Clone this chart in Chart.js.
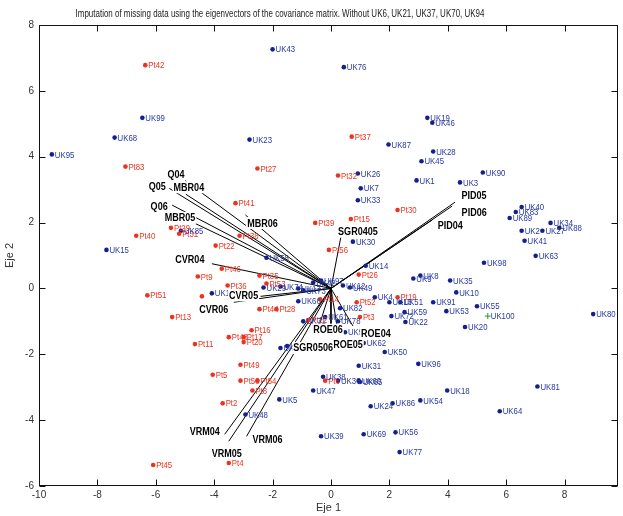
<!DOCTYPE html>
<html>
<head>
<meta charset="utf-8">
<script src="https://cdn.jsdelivr.net/npm/chart.js@4.4.1/dist/chart.umd.min.js"></script>
<style>
  html, body { margin: 0; padding: 0; background: #fff; }
  canvas { display: block; }
</style>
</head>
<body>
<canvas id="biplot" width="623" height="516"></canvas>
<script>
// Biplot — scores (Pt = red, UK = blue) and loading vectors

const chartTitle = 'Imputation of missing data using the eigenvectors of the covariance matrix. Without UK6, UK21, UK37, UK70, UK94';

const ptNames = ['Pt42','Pt83','Pt37','Pt27','Pt32','Pt41','Pt39','Pt15','Pt30','Pt56','Pt26','Pt52','Pt3','Pt19','Pt14',
  'Pt44','Pt28','Pt35','Pt53','Pt36','Pt46','Pt9','Pt22','Pt38','Pt40','Pt29','Pt31','Pt51','Pt13','',
  'Pt11','Pt16','Pt48','Pt17','Pt20','Pt49','Pt5','Pt50','Pt54','Pt8','Pt2','Pt4','Pt45','Pt6','Pt12'];
const ptX = [-6.36,-7.04,0.71,-2.52,0.24,-3.27,-0.54,0.68,2.28,-0.07,0.95,0.88,0.99,2.28,-0.37,
  -2.45,-1.87,-2.45,-2.21,-3.54,-3.74,-4.56,-3.95,-3.13,-6.67,-5.48,-5.20,-6.29,-5.44,-4.42,
  -4.66,-2.72,-3.50,-2.99,-2.99,-3.10,-4.05,-3.10,-2.52,-2.69,-3.71,-3.50,-6.09,-0.20,-0.78];
const ptY = [6.78,3.70,4.61,3.64,3.43,2.59,1.99,2.11,2.38,1.17,0.42,-0.42,-0.87,-0.27,-0.33,
  -0.63,-0.63,0.39,0.15,0.09,0.60,0.36,1.30,1.60,1.60,1.84,1.66,-0.21,-0.87,-0.24,
  -1.69,-1.27,-1.48,-1.48,-1.63,-2.32,-2.62,-2.80,-2.80,-3.10,-3.49,-5.30,-5.36,-2.80,-0.96];

const ukNames = ['UK99','UK68','UK95','UK43','UK76','UK23','UK87','UK26','UK7','UK19','UK46','UK28','UK45','UK90','UK1','UK3',
  'UK33','UK30','UK14','UK58','UK12','UK49','UK97','UK74','UK29','UK17','UK42','UK66','UK61','UK78','UK93','UK82',
  'UK4','UK13','UK51','UK59','UK72','UK22','UK62','UK50','UK31','UK38','UK36','UK60','UK65','UK47','UK5','UK24',
  'UK86','UK48','UK39','UK69','UK56','UK77','UK96','UK18','UK54','UK81','UK64','UK40','UK83','UK89','UK34','UK2',
  'UK27','UK88','UK41','UK63','UK98','UK8','UK9','UK35','UK10','UK91','UK53','UK55','UK20','UK80','UK15','UK85',
  'UK16','UK71','UK11','UK52','UK73'];
const ukX = [-6.46,-7.41,-9.56,-2.00,0.44,-2.79,1.97,0.92,1.02,3.30,3.47,3.50,3.10,5.20,2.93,4.42,
  0.92,0.75,1.19,-2.21,0.41,0.65,-0.34,-1.73,-2.31,-1.12,-0.61,-1.12,-0.20,0.24,0.48,0.31,
  1.50,2.00,2.38,2.52,2.07,2.55,1.12,1.84,0.95,-0.27,0.24,0.95,0.99,-0.61,-1.77,1.36,
  2.11,-2.93,-0.34,1.12,2.21,2.35,2.99,3.98,3.06,7.07,5.78,6.53,6.33,6.12,7.52,6.53,
  7.24,7.82,6.63,7.01,5.24,3.06,2.82,4.08,4.29,3.50,3.95,5.00,4.59,8.98,-7.69,-5.14,
  -4.08,-0.95,-1.73,-1.50,-0.95];
const ukY = [5.18,4.58,4.07,7.26,6.72,4.52,4.37,3.49,3.04,5.18,5.03,4.16,3.86,3.52,3.28,3.22,
  2.68,1.42,0.69,0.93,0.09,0.03,0.24,0.06,0.03,0.00,0.18,-0.39,-0.87,-1.00,-1.33,-0.60,
  -0.27,-0.42,-0.42,-0.72,-0.84,-1.02,-1.66,-1.93,-2.35,-2.68,-2.80,-2.80,-2.84,-3.10,-3.37,-3.58,
  -3.49,-3.83,-4.49,-4.43,-4.37,-4.97,-2.29,-3.10,-3.40,-2.98,-3.73,2.47,2.32,2.14,1.99,1.75,
  1.75,1.84,1.45,0.99,0.78,0.39,0.30,0.24,-0.12,-0.42,-0.69,-0.54,-1.17,-0.78,1.17,1.75,
  -0.15,-1.00,-1.81,-1.75,-0.06];

const extraNames = ['UK100'];
const extraX = [5.37];
const extraY = [-0.84];

const vecNames = ['Q04','Q05','MBR04','Q06','MBR05','MBR06','CVR04','CVR05','CVR06','SGR0405',
  'PID05','PID06','PID04','ROE06','ROE05','ROE04','SGR0506','VRM04','VRM05','VRM06'];
const vecX = [-5.00,-5.54,-4.97,-5.44,-4.76,-2.93,-4.08,-2.41,-3.33,0.34,
  4.25,4.15,3.47,0.00,0.24,0.75,-0.44,-3.64,-3.50,-2.89];
const vecY = [3.28,3.04,2.86,2.53,2.02,2.23,0.75,-0.24,-0.42,1.57,
  2.62,2.50,2.08,-1.10,-1.33,-1.14,-1.23,-4.43,-4.64,-4.49];

const xRange = [-10, 9.83];
const yRange = [-6, 8];
const tickStep = 2;

// label placement for the vector names (pixels from the arrow tip)
const vecLabelDx = [-9,-12,3,-13,-12,17,-22,-17,-20,17,19,22,18,-3,10,23,-5,-20,-2,21];
const vecLabelDy = [-6,-2,-7,1,-4,8,-4,-1,7,-5,-7,6,6,5,12,8,19,-3,12,3];

const SANS = "'Liberation Sans', Arial, sans-serif";
const RED = '#ec3320';
const BLUE = '#14208c';
const BLUE_TXT = '#2638a2';

// no narrow face installed: squeeze regular text horizontally
function narrowText(ctx, text, x, y, sx) {
  ctx.save();
  ctx.translate(x, y);
  ctx.scale(sx, 1);
  ctx.fillText(text, 0, 0);
  ctx.restore();
}

const toPts = (xs, ys) => xs.map((x, i) => ({ x, y: ys[i] }));

const vectorSets = vecNames.map((n, i) => ({
  label: n,
  type: 'line',
  data: [{ x: 0, y: 0 }, { x: vecX[i], y: vecY[i] }],
  borderColor: '#000',
  borderWidth: 1,
  pointRadius: 0,
  fill: false,
  order: 2,
}));

const pointSets = [
  { label: 'Pt', names: ptNames, data: toPts(ptX, ptY), backgroundColor: RED, borderWidth: 0,
    pointRadius: 2.3, txt: RED, order: 1 },
  { label: 'UK', names: ukNames, data: toPts(ukX, ukY), backgroundColor: BLUE, borderWidth: 0,
    pointRadius: 2.3, txt: BLUE_TXT, order: 1 },
  { label: 'UKx', names: extraNames, data: toPts(extraX, extraY), borderColor: '#2a9a2a', borderWidth: 1,
    pointStyle: 'cross', pointRadius: 3, txt: BLUE_TXT, order: 1 },
];

const frame = {
  id: 'frame',
  afterDraw(chart) {
    const { ctx, chartArea: a, scales } = chart;
    const L = Math.round(a.left) + 0.5, R = Math.round(a.right) - 0.5;
    const T = Math.round(a.top) + 0.5, B = Math.round(a.bottom) - 0.5;
    ctx.save();
    ctx.strokeStyle = '#111';
    ctx.lineWidth = 1;
    ctx.strokeRect(L, T, R - L, B - T);
    ctx.beginPath();
    scales.x.ticks.forEach(t => {
      const p = Math.round(scales.x.getPixelForValue(t.value)) + 0.5;
      ctx.moveTo(p, B); ctx.lineTo(p, B - 6);
      ctx.moveTo(p, T); ctx.lineTo(p, T + 6);
    });
    scales.y.ticks.forEach(t => {
      const p = Math.round(scales.y.getPixelForValue(t.value)) + 0.5;
      ctx.moveTo(L, p); ctx.lineTo(L + 6, p);
      ctx.moveTo(R, p); ctx.lineTo(R - 6, p);
    });
    ctx.stroke();
    ctx.fillStyle = '#222';
    ctx.font = '10.5px ' + SANS;
    ctx.textAlign = 'center';
    ctx.textBaseline = 'middle';
    narrowText(ctx, chartTitle, 280, 14, 0.76);
    ctx.restore();
  }
};

const labels = {
  id: 'labels',
  afterDatasetsDraw(chart) {
    const { ctx } = chart;
    ctx.save();
    ctx.textBaseline = 'middle';
    ctx.textAlign = 'left';
    ctx.font = '9.5px ' + SANS;
    chart.data.datasets.forEach((ds, di) => {
      if (!ds.names) return;
      chart.getDatasetMeta(di).data.forEach((el, i) => {
        if (!ds.names[i]) return;
        ctx.fillStyle = ds.txt;
        narrowText(ctx, ds.names[i], el.x + 3, el.y + 0.5, 0.82);
      });
    });
    // vector names, bold on a white box
    ctx.font = 'bold 11px ' + SANS;
    ctx.textAlign = 'center';
    vecNames.forEach((n, i) => {
      const tip = chart.getDatasetMeta(i).data[1];
      const cx = tip.x + vecLabelDx[i], cy = tip.y + vecLabelDy[i];
      const w = ctx.measureText(n).width * 0.82;
      ctx.fillStyle = '#fff';
      ctx.fillRect(cx - w / 2 - 1, cy - 6, w + 2, 12);
      ctx.fillStyle = '#000';
      narrowText(ctx, n, cx, cy + 0.5, 0.82);
    });
    ctx.restore();
  }
};

new Chart(document.getElementById('biplot'), {
  type: 'scatter',
  data: { datasets: [...vectorSets, ...pointSets] },
  options: {
    responsive: false,
    animation: false,
    layout: { padding: { top: 25, right: 1, left: 0, bottom: 0 } },
    plugins: {
      legend: { display: false },
      tooltip: { enabled: false },
    },
    scales: {
      x: {
        type: 'linear',
        min: xRange[0],
        max: xRange[1],
        afterFit: s => { s.height = 30; },
        ticks: { stepSize: tickStep, includeBounds: false, color: '#333', padding: 3,
                 font: { size: 10, family: SANS } },
        grid: { display: false, drawTicks: false },
        border: { display: false },
        title: { display: true, text: 'Eje 1', color: '#333', padding: { top: 0, bottom: 1 },
                 font: { size: 11, family: SANS } },
      },
      y: {
        type: 'linear',
        min: yRange[0],
        max: yRange[1],
        afterFit: s => { s.width = 39; },
        ticks: { stepSize: tickStep, includeBounds: false, color: '#333', padding: 5,
                 font: { size: 10, family: SANS } },
        grid: { display: false, drawTicks: false },
        border: { display: false },
        title: { display: true, text: 'Eje 2', color: '#333', padding: { top: 3, bottom: 0 },
                 font: { size: 11, family: SANS } },
      },
    },
  },
  plugins: [frame, labels],
});
</script>
</body>
</html>
